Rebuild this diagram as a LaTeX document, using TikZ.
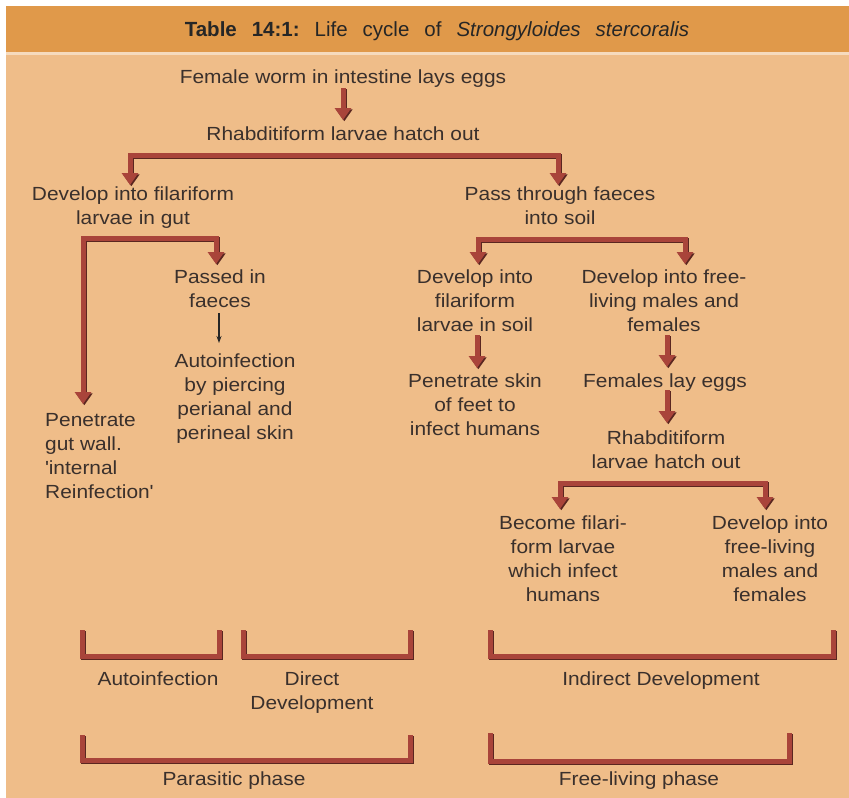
\documentclass[tikz,border=0pt]{standalone}
\usepackage{fontspec}
\setmainfont{Liberation Sans}[FakeStretch=1.1]
\newfontfamily\hdrfont{Liberation Sans}
\usetikzlibrary{arrows.meta}
\definecolor{bodybg}{HTML}{EFBD89}
\definecolor{hdrbg}{HTML}{E0994A}
\definecolor{arrred}{HTML}{A9443A}
\definecolor{arrdark}{HTML}{5A2620}
\definecolor{txtcol}{HTML}{3A302C}
\newcommand\myarrow[2][]{\draw[shade line,#1] #2; \draw[red line,#1] #2;}
\begin{document}
\begin{tikzpicture}[x=1pt,y=-1pt,
  lbl/.style={font=\fontsize{19}{24}\selectfont, text=txtcol, align=center, inner sep=0pt},
  shade line/.style={draw=arrdark, line width=5pt, line join=miter, transform canvas={shift={(1.3,1.3)}}},
  red line/.style={draw=arrred, line width=5pt, line join=miter},
  onehead/.style={-{Triangle[width=16pt,length=12pt]}},
  twohead/.style={{Triangle[width=16pt,length=12pt]}-{Triangle[width=16pt,length=12pt]}},
  thin arrow/.style={draw=black!85, line width=1.2pt, -{Stealth[length=7pt,width=5pt]}}]
\useasboundingbox (0,0) rectangle (849,798);
\fill[white] (0,0) rectangle (849,798);
\fill[bodybg] (6,6) rectangle (849,798);
\fill[hdrbg] (6,6) rectangle (849,52);
\fill[bodybg!55!white] (6,52) rectangle (849,55);

\node[text=black!85, inner sep=0pt, font=\hdrfont\fontsize{20.5}{24}\selectfont] (title) at (437,31)
  {\textbf{Table}\hspace{15pt}\textbf{14:1:}\hspace{15pt}Life\hspace{15pt}cycle\hspace{15pt}of\hspace{15pt}\textit{Strongyloides}\hspace{15pt}\textit{stercoralis}};

% text nodes
\node[lbl] (n1) at (343,79) {Female worm in intestine lays eggs};
\node[lbl] (n2) at (343,134) {Rhabditiform larvae hatch out};
\node[lbl] (n3) at (133,208) {Develop into filariform\\larvae in gut};
\node[lbl] (n4) at (560,206) {Pass through faeces\\into soil};
\node[lbl] (n5) at (220,289) {Passed in\\faeces};
\node[lbl] (n6) at (235,399) {Autoinfection\\by piercing\\perianal and\\perineal skin};
\node[lbl, align=left, anchor=west] (n7) at (45,456) {Penetrate\\gut wall.\\\textquotesingle internal\\Reinfection\textquotesingle};
\node[lbl] (n8) at (475,301) {Develop into\\filariform\\larvae in soil};
\node[lbl] (n9) at (664,301) {Develop into free-\\living males and\\females};
\node[lbl] (n10) at (475,405) {Penetrate skin\\of feet to\\infect humans};
\node[lbl] (n11) at (665,383) {Females lay eggs};
\node[lbl] (n12) at (666,450) {Rhabditiform\\larvae hatch out};
\node[lbl] (n13) at (563,559) {Become filari-\\form larvae\\which infect\\humans};
\node[lbl] (n14) at (770,559) {Develop into\\free-living\\males and\\females};
\node[lbl] (n15) at (158,679) {Autoinfection};
\node[lbl] (n16) at (312,693) {Direct\\Development};
\node[lbl] (n17) at (661,681) {Indirect Development};
\node[lbl] (n18) at (234,781) {Parasitic phase};
\node[lbl] (n19) at (639,781) {Free-living phase};

% connector coordinates
\coordinate (a1s) at (343,88);  \coordinate (a1e) at (343,120);
\coordinate (b1l) at (130,185); \coordinate (b1a) at (130,155); \coordinate (b1b) at (558,155); \coordinate (b1r) at (558,185);
\coordinate (b2l) at (83,404);  \coordinate (b2a) at (83,238);  \coordinate (b2b) at (216,238); \coordinate (b2r) at (216,264);
\coordinate (t1s) at (219,313); \coordinate (t1e) at (219,343);
\coordinate (b3l) at (478,264); \coordinate (b3a) at (478,239); \coordinate (b3b) at (685,239); \coordinate (b3r) at (685,264);
\coordinate (a2s) at (477,335); \coordinate (a2e) at (477,368);
\coordinate (a3s) at (667,335); \coordinate (a3e) at (667,367);
\coordinate (a4s) at (667,390); \coordinate (a4e) at (667,423);
\coordinate (b4l) at (560,509); \coordinate (b4a) at (560,483); \coordinate (b4b) at (765,483); \coordinate (b4r) at (765,509);

\myarrow[onehead]{(a1s) -- (a1e)}
\myarrow[twohead]{(b1l) -- (b1a) -- (b1b) -- (b1r)}
\myarrow[twohead]{(b2l) -- (b2a) -- (b2b) -- (b2r)}
\draw[thin arrow] (t1s) -- (t1e);
\myarrow[twohead]{(b3l) -- (b3a) -- (b3b) -- (b3r)}
\myarrow[onehead]{(a2s) -- (a2e)}
\myarrow[onehead]{(a3s) -- (a3e)}
\myarrow[onehead]{(a4s) -- (a4e)}
\myarrow[twohead]{(b4l) -- (b4a) -- (b4b) -- (b4r)}

% brackets
\myarrow{(82,630) -- (82,656) -- (219,656) -- (219,630)}
\myarrow{(243,630) -- (243,656) -- (410,656) -- (410,630)}
\myarrow{(490,630) -- (490,656) -- (833,656) -- (833,630)}
\myarrow{(82,735) -- (82,760) -- (410,760) -- (410,735)}
\myarrow{(490,733) -- (490,761) -- (789,761) -- (789,733)}
\end{tikzpicture}
\end{document}
